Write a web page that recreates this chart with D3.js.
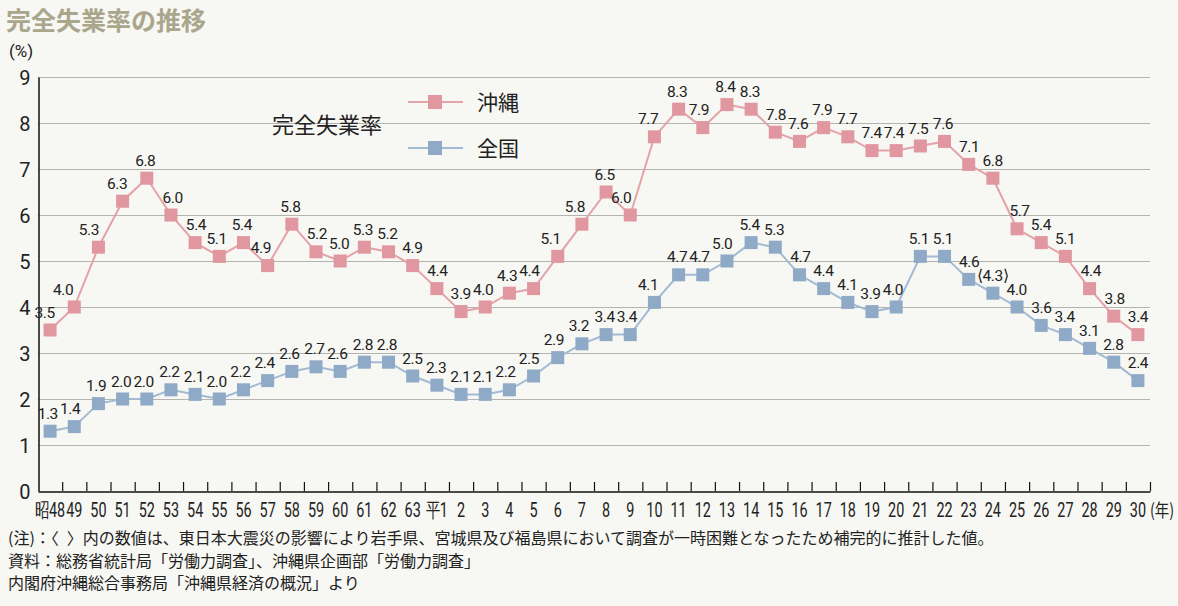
<!DOCTYPE html>
<html><head><meta charset="utf-8">
<script src="https://cdn.jsdelivr.net/npm/d3@7"></script>
<style>
html,body{margin:0;padding:0;background:#f7f7f3;}
svg{display:block;}
</style></head>
<body>
<svg id="chart" width="1178" height="606"></svg>
<script>
const years = ["昭48","49","50","51","52","53","54","55","56","57","58","59","60","61","62","63",
  "平1","2","3","4","5","6","7","8","9","10","11","12","13","14","15","16","17","18","19","20",
  "21","22","23","24","25","26","27","28","29","30"];
const okinawa = [3.5,4.0,5.3,6.3,6.8,6.0,5.4,5.1,5.4,4.9,5.8,5.2,5.0,5.3,5.2,4.9,
  4.4,3.9,4.0,4.3,4.4,5.1,5.8,6.5,6.0,7.7,8.3,7.9,8.4,8.3,7.8,7.6,7.9,7.7,7.4,7.4,
  7.5,7.6,7.1,6.8,5.7,5.4,5.1,4.4,3.8,3.4];
const national = [1.3,1.4,1.9,2.0,2.0,2.2,2.1,2.0,2.2,2.4,2.6,2.7,2.6,2.8,2.8,2.5,
  2.3,2.1,2.1,2.2,2.5,2.9,3.2,3.4,3.4,4.1,4.7,4.7,5.0,5.4,5.3,4.7,4.4,4.1,3.9,4.0,
  5.1,5.1,4.6,4.3,4.0,3.6,3.4,3.1,2.8,2.4];
const nationalEstimatedYears = ["24"];
const yTicks = [0,1,2,3,4,5,6,7,8,9];
const seriesNames = ["沖縄","全国"];
const title = "完全失業率の推移";
const legendTitle = "完全失業率";
const notes = [
  "(注)：〈\u2002〉内の数値は、東日本大震災の影響により岩手県、宮城県及び福島県において調査が一時困難となったため補完的に推計した値。",
  "資料：総務省統計局「労働力調査」、沖縄県企画部「労働力調査」",
  "内閣府沖縄総合事務局「沖縄県経済の概況」より"
];

const svg = d3.select("#chart");
const W = 1178, H = 606;
const pL = 38, pR = 1150, pT = 77, pB = 491;
const jp = "'Noto Sans CJK JP', sans-serif";
const num = "Roboto, 'Noto Sans', sans-serif";
const colors = {
  okinawa: {marker:"#e0979f", line:"#e4a2a9"},
  national: {marker:"#8faac6", line:"#a2bad3"}
};

svg.append("rect").attr("width",W).attr("height",H).attr("fill","#f7f7f3");

const x = d3.scaleBand().domain(years).range([pL,pR]).padding(0);
const y = d3.scaleLinear().domain([0,9]).range([pB,pT]);
const cx = d => x(d) + x.bandwidth()/2;

// title
svg.append("text").attr("x",6).attr("y",30).text(title)
  .attr("font-family",jp).attr("font-weight","bold").attr("font-size",25).attr("fill","#a9a68b");
svg.append("text").attr("x",9).attr("y",57).text("(%)")
  .attr("font-family",num).attr("font-size",17).attr("fill","#222");

// gridlines
svg.append("g").selectAll("line").data(yTicks.filter(t=>t>0)).join("line")
  .attr("x1",pL).attr("x2",pR).attr("y1",d=>y(d)+0.5).attr("y2",d=>y(d)+0.5)
  .attr("stroke","#b3b3b0").attr("stroke-width",1.2);

// y axis
const yAxis = svg.append("g").attr("transform",`translate(${pL+0.5},0)`)
  .call(d3.axisLeft(y).tickValues(yTicks).tickSize(0).tickPadding(8).tickFormat(d3.format("d")));
yAxis.select(".domain").attr("stroke","#111").attr("stroke-width",1.5);
yAxis.selectAll("text").attr("font-family",num).attr("font-size",20).attr("fill","#222").attr("dy","0.36em");

// x axis
const xAxis = svg.append("g").attr("transform",`translate(0,${pB+0.5})`)
  .call(d3.axisBottom(x).tickSize(0).tickFormat(""));
xAxis.select(".domain").attr("stroke","#111").attr("stroke-width",1.5);
svg.append("g").selectAll("line").data(years).join("line")
  .attr("x1",d=>x(d)+x.bandwidth()+0.5).attr("x2",d=>x(d)+x.bandwidth()+0.5)
  .attr("y1",pB).attr("y2",pB-9).attr("stroke","#111").attr("stroke-width",1.2);
svg.append("g").selectAll("text").data(years).join("text")
  .attr("transform",d=>`translate(${cx(d)},517) scale(0.72,1)`)
  .attr("text-anchor","middle").attr("font-family",num).attr("font-size",20).attr("fill","#222")
  .text(d=>d);
svg.append("text").attr("transform",`translate(${pR},517) scale(0.8,1)`)
  .attr("font-family",jp).attr("font-size",18).attr("fill","#222").text("(年)");

// series
function drawSeries(vals, col, labelFn){
  const g = svg.append("g");
  const pts = years.map((yr,i)=>({yr, v:vals[i], i}));
  g.append("path").datum(pts)
    .attr("d", d3.line().x(d=>cx(d.yr)).y(d=>y(d.v)))
    .attr("fill","none").attr("stroke",col.line).attr("stroke-width",2);
  const s = 13;
  g.selectAll("rect").data(pts).join("rect")
    .attr("x",d=>cx(d.yr)-s/2).attr("y",d=>y(d.v)-s/2).attr("width",s).attr("height",s)
    .attr("fill",col.marker);
  const texts = g.selectAll("text").data(pts).join("text")
    .attr("y",d=>y(d.v)-12.5)
    .attr("text-anchor","middle").attr("font-family",num).attr("font-size",15.5)
    .attr("letter-spacing","-0.4").attr("fill","#222")
    .text(d=>labelFn(d));
  // placement: nudge left when the line climbs to the right, right when it came down from the left,
  // then resolve collisions with the previous label
  let prev = null;
  texts.each(function(d){
    const nx = d.i < vals.length-1 ? vals[d.i+1]-d.v : 0;
    const px = d.i > 0 ? vals[d.i-1]-d.v : 0;
    const dx = -1.5 - 8*Math.min(1.2, Math.max(0,nx)) + 4*Math.min(1, Math.max(0,px));
    let xx = cx(d.yr)+dx;
    const w = this.getComputedTextLength();
    const yy = y(d.v)-12.5;
    if (prev && Math.abs(prev.y-yy) < 13) {
      const minX = prev.x + prev.w/2 + w/2 + 2;
      if (xx < minX) xx = minX;
    }
    d3.select(this).attr("x",xx);
    prev = {x:xx, y:yy, w};
  });
}
drawSeries(okinawa, colors.okinawa, d=>d3.format(".1f")(d.v));
drawSeries(national, colors.national, d=>{
  const t = d3.format(".1f")(d.v);
  return nationalEstimatedYears.includes(d.yr) ? "⟨"+t+"⟩" : t;
});

// legend
svg.append("text").attr("x",272).attr("y",133).text(legendTitle)
  .attr("font-family",jp).attr("font-size",22).attr("fill","#222");
const lg = svg.append("g");
[colors.okinawa, colors.national].forEach((c,i)=>{
  const ly = 102 + i*46;
  lg.append("line").attr("x1",408).attr("x2",463).attr("y1",ly).attr("y2",ly)
    .attr("stroke",c.line).attr("stroke-width",2);
  lg.append("rect").attr("x",435-7).attr("y",ly-7).attr("width",14).attr("height",14).attr("fill",c.marker);
  lg.append("text").attr("x",477).attr("y",ly+8).text(seriesNames[i])
    .attr("font-family",jp).attr("font-size",21).attr("fill","#222");
});

// notes
notes.forEach((n,i)=>{
  svg.append("text").attr("x",8).attr("y",544+i*22.5).text(n)
    .attr("font-family",jp).attr("font-size",16).attr("fill","#222");
});
</script>
</body></html>
